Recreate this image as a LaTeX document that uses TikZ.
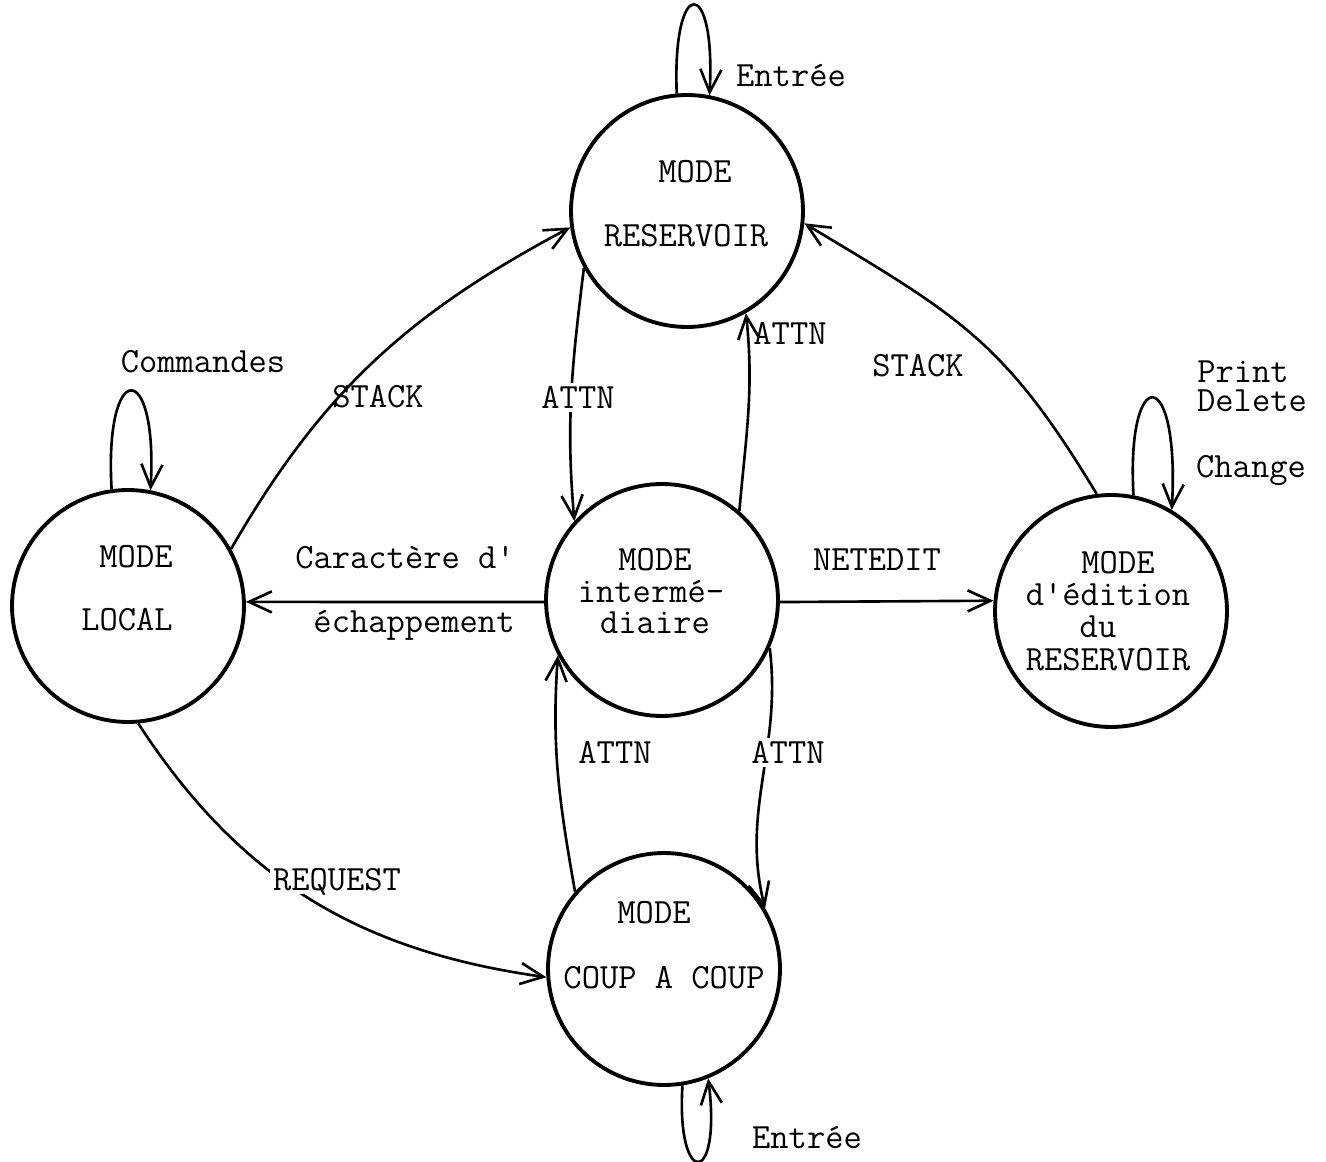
\documentclass[tikz,border=0pt]{standalone}
\usepackage{fontspec}
\setmonofont{Latin Modern Mono}
\usetikzlibrary{arrows.meta}
\begin{document}
\begin{tikzpicture}[x=0.02cm,y=0.02cm,
  state/.style={circle,draw,line width=2.2pt,minimum size=4.64cm,inner sep=0pt},
  txt/.style={font=\ttfamily\fontsize{20.2}{20}\selectfont,anchor=base,inner sep=0pt,
    text height=12.5pt,text depth=0pt},
  cut/.style={txt,fill=white,inner sep=2pt},
  link/.style={line width=1.5pt,-{Straight Barb[length=13pt,width=12pt]}}
]
\useasboundingbox (0,0) rectangle (1326,-1162);

% states
\node[state] (res)   at (687,-211)  {};
\node[state] (local) at (128,-606)  {};
\node[state] (inter) at (662,-600)  {};
\node[state] (edit)  at (1111,-611) {};
\node[state] (coup)  at (664,-969)  {};

% state names
\node[txt] (res1) at (695,-183) {MODE};
\node[txt] (res2) at (686,-247) {RESERVOIR};
\node[txt] (loc1) at (136,-567) {MODE};
\node[txt] (loc2) at (127,-630) {LOCAL};
\node[txt] (int1) at (655,-570) {MODE};
\node[txt] (int2) at (651,-602) {intermé-};
\node[txt] (int3) at (655,-633) {diaire};
\node[txt] (edt1) at (1118,-573) {MODE};
\node[txt] (edt2) at (1108,-605) {d\textquotesingle édition};
\node[txt] (edt3) at (1098,-637) {du};
\node[txt] (edt4) at (1108,-670) {RESERVOIR};
\node[txt] (cac1) at (654,-923) {MODE};
\node[txt] (cac2) at (664,-988) {COUP A COUP};

% self loops
\draw[link] (res.95) .. controls (672,25) and (716,25) .. (res.79);
\draw[link] (local.98) .. controls (104,-358) and (158,-358) .. (local.79);
\draw[link] (edit.79) .. controls (1126,-363) and (1180,-363) .. (edit.59);
\draw[link] (coup.-81) .. controls (676,-1188) and (722,-1188) .. (coup.-68);

% transitions
\draw[link] (local.29) to[out=60,in=208] (res.188);
\draw[link] (edit.97) to[out=121,in=-31,looseness=1.15] (res.-6);
\draw[link] (res.209) to[out=263,in=95] (inter.138);
\draw[link] (inter.49) to[out=85,in=-84] (res.300);
\draw[link] (inter.181) -- (local.2);
\draw[link] (inter.-1) -- (edit.175.5);
\draw[link] (coup.139) to[out=100,in=266] (inter.208);
\draw[link] (inter.-24) to[out=-83,in=104] (coup.31);
\draw[link] (local.-85) to[out=-57,in=172] (coup.184);

% transition labels
\node[txt] (lEntA)  at (791,-87)   {Entrée};
\node[txt] (lCmd)   at (203,-373)  {Commandes};
\node[txt] (lStkL)  at (378,-407)  {STACK};
\node[cut] (lAttnA) at (578,-408)  {ATTN};
\node[txt] (lAttnB) at (790,-345)  {ATTN};
\node[txt] (lStkR)  at (918,-377)  {STACK};
\node[txt] (lPrint) at (1243,-382) {Print};
\node[txt] (lDel)   at (1252,-412) {Delete};
\node[txt] (lChg)   at (1251,-477) {Change};
\node[txt] (lCar)   at (405,-568)  {Caractère d\textquotesingle};
\node[txt] (lEch)   at (414,-632)  {échappement};
\node[txt] (lNet)   at (877,-570)  {NETEDIT};
\node[txt] (lAttnC) at (615,-763)  {ATTN};
\node[cut] (lAttnD) at (788,-763)  {ATTN};
\node[cut] (lReq)   at (337,-890)  {REQUEST};
\node[txt] (lEntB)  at (807,-1148) {Entrée};
\end{tikzpicture}
\end{document}
